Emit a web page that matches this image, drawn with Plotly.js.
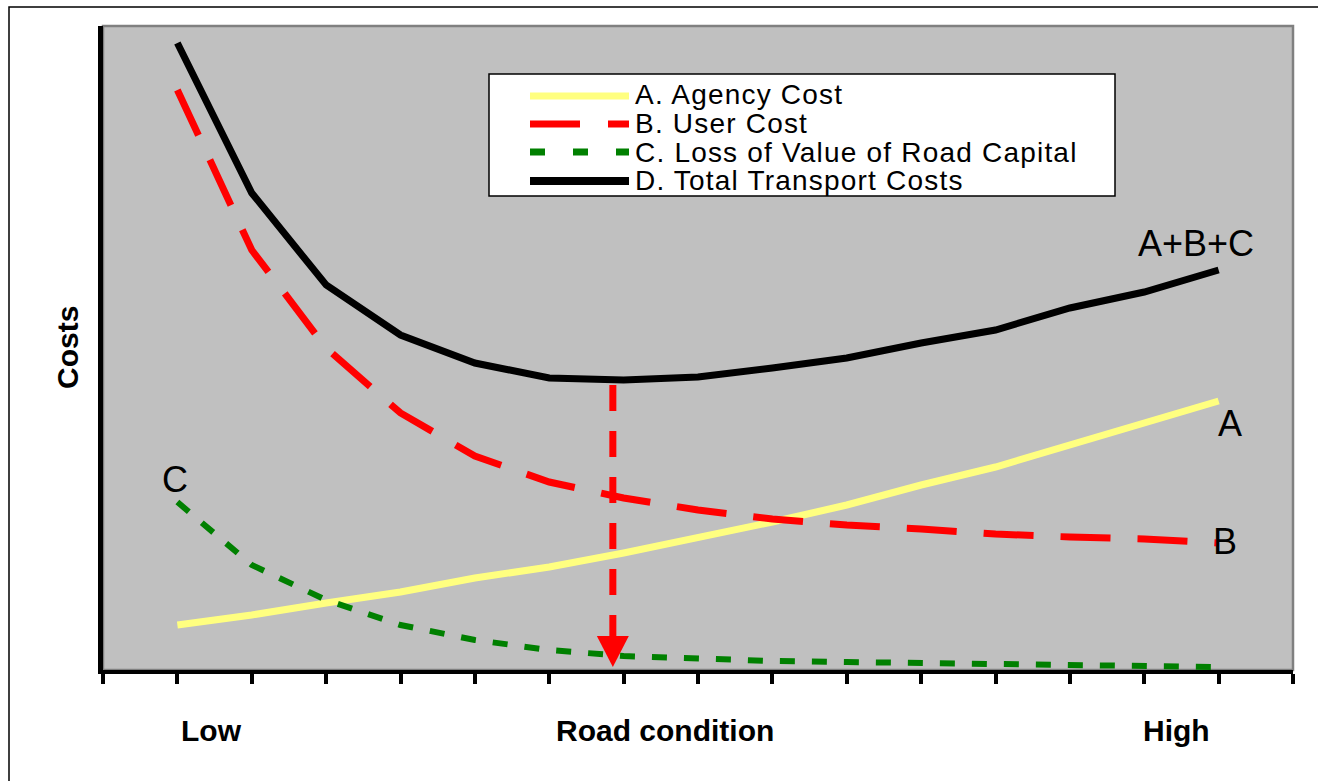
<!DOCTYPE html>
<html>
<head>
<meta charset="utf-8">
<script src="https://cdn.plot.ly/plotly-3.0.1.min.js"></script>
<style>html,body{margin:0;padding:0;background:#fff;}#chart{width:1318px;height:781px;}</style>
</head>
<body>
<div id="chart"></div>
<script>
// ---- data ----
const roadCondition = [1, 2, 3, 4, 5, 6, 7, 8, 9, 10, 11, 12, 13, 14, 15];
const agencyCost   = [45, 55, 67, 78, 92, 103, 117, 132, 148, 165, 185, 203, 225, 247, 269];
const userCost     = [580, 420, 322, 257, 214, 188, 172, 160, 151, 145, 141, 136, 133, 131, 127];
const lossOfValue  = [168, 105, 70, 45, 30, 20, 14, 11, 9, 8, 7, 6, 5, 4, 3];
const totalCost    = [627, 477, 385, 335, 307, 292, 290, 293, 302, 312, 327, 340, 362, 378, 400];
const seriesNames  = ["A. Agency Cost", "B. User Cost", "C. Loss of Value of Road Capital", "D. Total Transport Costs"];
const curveLabels  = ["A", "B", "C", "A+B+C"];
const xLabels      = ["Low", "Road condition", "High"];
const xLabelPos    = [1.465, 7.55, 14.44];
// optimum marker (arrow) from total-cost minimum down to the axis
const optimumX     = [6.855];
const optimumFromY = [285];
const optimumToY   = [3];

const FONT = "Arial, 'Liberation Sans', Helvetica, sans-serif";

const traces = [
  {x: roadCondition, y: agencyCost, mode: "lines", name: seriesNames[0], showlegend: false,
   line: {color: "#FFFF80", width: 7}},
  {x: roadCondition, y: lossOfValue, mode: "lines", name: seriesNames[2], showlegend: false,
   line: {color: "#008000", width: 6, dash: "15px,17px"}},
  {x: roadCondition, y: userCost, mode: "lines", name: seriesNames[1], showlegend: false,
   line: {color: "#FF0000", width: 7, dash: "50px,27px"}},
  {x: roadCondition, y: totalCost, mode: "lines", name: seriesNames[3], showlegend: false,
   line: {color: "#000000", width: 7}},
];

// arrow: dashed stem + filled head built from the optimum arrays
const headLen = 31, headHalf = 0.215;
traces.push({
  x: [optimumX[0], optimumX[0]], y: [optimumFromY[0], optimumToY[0] + headLen], mode: "lines",
  showlegend: false, hoverinfo: "skip",
  line: {color: "#FF0000", width: 7, dash: "26px,20px"}
});
traces.push({
  x: [optimumX[0] - headHalf, optimumX[0] + headHalf, optimumX[0], optimumX[0] - headHalf],
  y: [optimumToY[0] + headLen, optimumToY[0] + headLen, optimumToY[0], optimumToY[0] + headLen],
  mode: "lines", fill: "toself", fillcolor: "#FF0000", showlegend: false, hoverinfo: "skip",
  line: {color: "#FF0000", width: 0}
});

// plot geometry helpers for paper coords (plot: x 103..1293, y 26..670)
const L = 103, R = 1293, T = 26, B = 670;
const px = v => (v - L) / (R - L);
const py = v => (B - v) / (B - T);

const legendRows = [96, 124, 152, 181];
const legendTextRows = [95, 123.5, 152, 180.5];
const legendStyles = [
  {color: "#FFFF80", width: 7, dash: "solid"},
  {color: "#FF0000", width: 7, dash: "50px,28px"},
  {color: "#008000", width: 7, dash: "15px,28px"},
  {color: "#000000", width: 8, dash: "solid"},
];

const shapes = [
  // outer frame (only top/left visible in the crop)
  {type: "rect", xref: "paper", yref: "paper", x0: px(9), x1: px(1340), y0: py(800), y1: py(7),
   line: {color: "#000", width: 1.5}, layer: "below"},
  // gray plot border
  {type: "rect", xref: "paper", yref: "paper", x0: 0, x1: 1, y0: 0, y1: 1,
   line: {color: "#808080", width: 2.5}, layer: "below"},
  // legend box
  {type: "rect", xref: "paper", yref: "paper", x0: px(489), x1: px(1115), y0: py(196), y1: py(74),
   fillcolor: "#FFFFFF", line: {color: "#000", width: 1.5}, layer: "above"},
];
legendRows.forEach((r, i) => {
  shapes.push({type: "line", xref: "paper", yref: "paper", x0: px(530), x1: px(629), y0: py(r), y1: py(r),
    line: legendStyles[i], layer: "above"});
});

const annotations = [];
seriesNames.forEach((t, i) => {
  annotations.push({xref: "paper", yref: "paper", x: px(634), y: py(legendTextRows[i]),
    text: '<span style="letter-spacing:1.2px">' + t + '</span>',
    showarrow: false, xanchor: "left", yanchor: "middle", borderpad: 0,
    font: {family: FONT, size: 28, color: "#000"}});
});
const labelPos = [[15.15, 247], [15.09, 129], [0.97, 191], [14.69, 427]];
curveLabels.forEach((t, i) => {
  annotations.push({xref: "x", yref: "y", x: labelPos[i][0], y: labelPos[i][1], text: t,
    showarrow: false, xanchor: "center", yanchor: "middle", font: {family: FONT, size: 36, color: "#000"}});
});
xLabels.forEach((t, i) => {
  annotations.push({xref: "x", yref: "paper", x: xLabelPos[i], y: py(730), text: "<b>" + t + "</b>",
    showarrow: false, xanchor: "center", yanchor: "middle", font: {family: FONT, size: 30, color: "#000"}});
});
annotations.push({xref: "paper", yref: "paper", x: px(67), y: py(348), text: "<b>Costs</b>", textangle: -90,
  showarrow: false, xanchor: "center", yanchor: "middle", font: {family: FONT, size: 30, color: "#000"}});

const layout = {
  width: 1318, height: 781,
  margin: {l: L, r: 1318 - R, t: T, b: 781 - B},
  paper_bgcolor: "#FFFFFF", plot_bgcolor: "#C0C0C0",
  showlegend: false,
  xaxis: {range: [0, 16], tickmode: "linear", tick0: 0, dtick: 1, ticks: "outside", ticklen: 10,
          tickwidth: 4, tickcolor: "#000", showticklabels: false, showgrid: false, zeroline: false,
          showline: true, linecolor: "#000", linewidth: 4, fixedrange: true},
  yaxis: {range: [0, 644], showticklabels: false, ticks: "", showgrid: false, zeroline: false,
          showline: true, linecolor: "#000", linewidth: 5, fixedrange: true},
  shapes: shapes,
  annotations: annotations,
  font: {family: FONT}
};

Plotly.newPlot("chart", traces, layout, {displayModeBar: false, staticPlot: true});
</script>
</body>
</html>
